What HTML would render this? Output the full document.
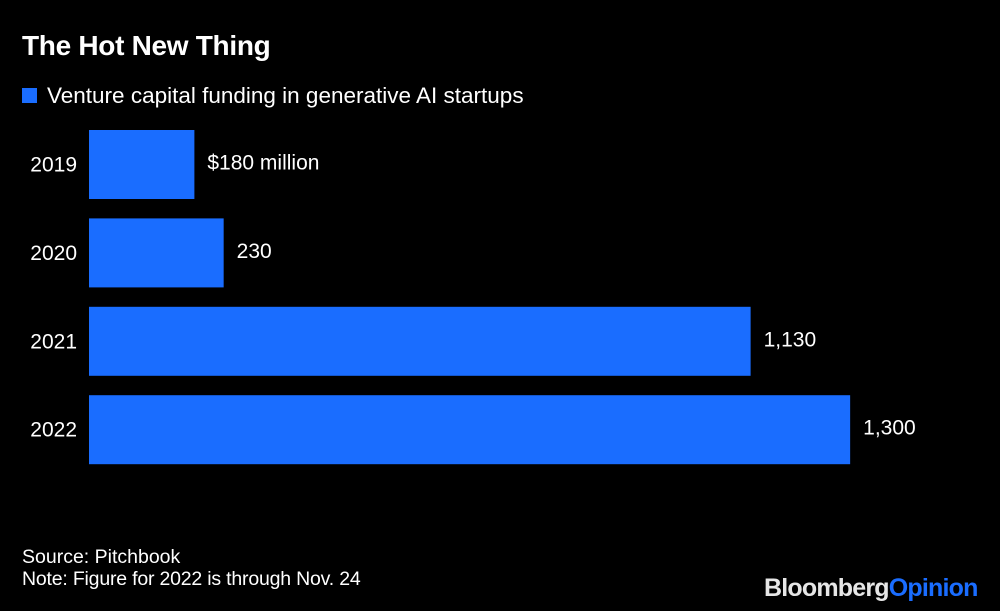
<!DOCTYPE html>
<html><head><meta charset="utf-8"><style>
html,body{margin:0;padding:0;background:#000;}
body{width:1000px;height:611px;position:relative;overflow:hidden;font-family:"Liberation Sans",Arial,sans-serif;color:#fff;}
.t{position:absolute;white-space:nowrap;}
</style></head><body>
<div class="t" style="left:22px;top:30px;font-size:28px;font-weight:bold;letter-spacing:-0.3px;">The Hot New Thing</div>
<div style="position:absolute;left:22px;top:83px;">
  <div style="position:absolute;left:0;top:5px;width:15px;height:15px;background:#1a6dff;"></div>
  <div class="t" style="left:25px;top:0;font-size:22.5px;">Venture capital funding in generative AI startups</div>
</div>
<svg id="chart" width="1000" height="611" style="position:absolute;left:0;top:0;"></svg>
<div class="t" style="left:22px;top:546px;font-size:19.5px;">Source: Pitchbook</div>
<div class="t" style="left:22px;top:568px;font-size:19.5px;letter-spacing:-0.2px;">Note: Figure for 2022 is through Nov. 24</div>
<div class="t" style="left:764px;top:574px;font-size:25px;font-weight:bold;letter-spacing:-0.8px;"><span style="color:#e6e6e6">Bloomberg</span><span style="color:#1a6dff">Opinion</span></div>
<script>
const categories=["2019","2020","2021","2022"];
const values=[180,230,1130,1300];
const valueLabels=["$180 million","230","1,130","1,300"];
const svg=document.getElementById('chart');
const NS='http://www.w3.org/2000/svg';
const x0=89, pxPerUnit=0.5855;
function xScale(v){return x0+v*pxPerUnit;}
function yScale(i){return 130+i*88.4;}
const bh=69;
categories.forEach((c,i)=>{
  const r=document.createElementNS(NS,'rect');
  r.setAttribute('x',x0);r.setAttribute('y',yScale(i));
  r.setAttribute('width',xScale(values[i])-x0);r.setAttribute('height',bh);
  r.setAttribute('fill','#1a6dff');
  
  
  svg.appendChild(r);
  const l=document.createElementNS(NS,'text');
  l.setAttribute('x',77);l.setAttribute('y',yScale(i)+bh/2+7);
  l.setAttribute('text-anchor','end');l.setAttribute('fill','#fff');
  l.setAttribute('font-size','21');l.setAttribute('font-family','Liberation Sans, sans-serif');
  l.textContent=c;
  
  
  svg.appendChild(l);
  const v=document.createElementNS(NS,'text');
  v.setAttribute('x',xScale(values[i])+13);v.setAttribute('y',yScale(i)+bh/2+5);
  v.setAttribute('fill','#fff');
  v.setAttribute('font-size','21');v.setAttribute('font-family','Liberation Sans, sans-serif');
  v.textContent=valueLabels[i];
  
  
  svg.appendChild(v);
});
</script>
</body></html>
